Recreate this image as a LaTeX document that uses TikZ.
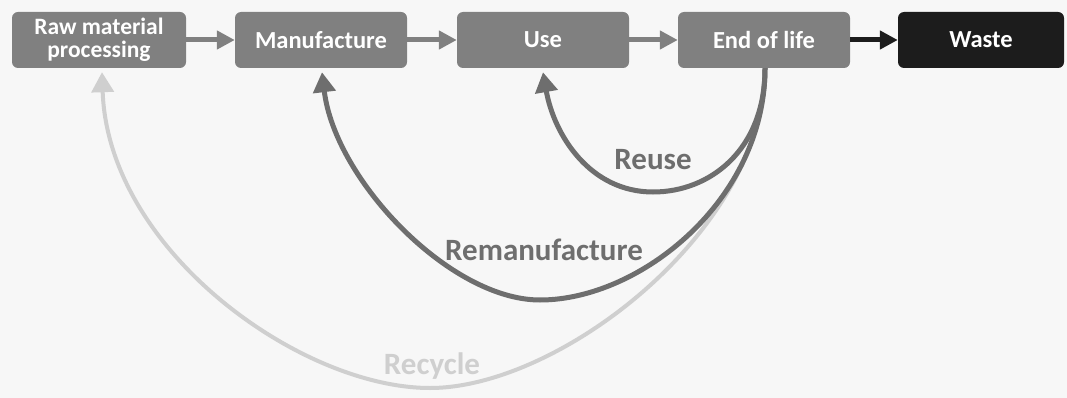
\documentclass[tikz,border=0pt]{standalone}
\usepackage{fontspec}
\setmainfont{Carlito}
\usetikzlibrary{arrows.meta}
\definecolor{boxgray}{HTML}{808080}
\definecolor{wastecol}{HTML}{1C1C1C}
\definecolor{loopdark}{HTML}{6E6E6E}
\definecolor{looplight}{HTML}{CFCFCF}
\definecolor{bgcol}{HTML}{F7F7F7}
\tikzset{
  stagebox/.style={draw=none, fill=boxgray, rounded corners=6pt, minimum height=56pt,
    minimum width=172pt, text=white, font=\bfseries\fontsize{24.5}{22}\selectfont, align=center, inner sep=0pt},
  flow/.style={line width=5pt, draw=boxgray, -{Triangle[width=18pt,length=18pt]}},
  loopline/.style={line width=5pt, draw=loopdark, -{Triangle[width=22pt,length=20pt]}},
  recline/.style={line width=4pt, draw=looplight, -{Triangle[width=22pt,length=20pt]}},
  looplabel/.style={font=\bfseries\fontsize{31}{32}\selectfont, text=loopdark},
}
\begin{document}
\begin{tikzpicture}[x=1pt,y=1pt]
\fill[bgcol] (0,0) rectangle (1067,-398);
\useasboundingbox (0,0) rectangle (1067,-398);
\node[stagebox, minimum width=174pt, font=\bfseries\fontsize{23.5}{23}\selectfont] (raw) at (99,-40) {Raw material\\processing};
\node[stagebox] (man) at (321,-40) {Manufacture};
\node[stagebox] (use) at (543,-40) {Use};
\node[stagebox] (eol) at (764,-40) {End of life};
\node[stagebox, fill=wastecol, minimum width=166pt] (waste) at (981,-40) {Waste};
\draw[flow] (raw.east) -- (man.west);
\draw[flow] (man.east) -- (use.west);
\draw[flow] (use.east) -- (eol.west);
\draw[flow, draw=wastecol] (eol.east) -- (waste.west);
\coordinate (es) at ([xshift=1pt]eol.south);
\coordinate (usein) at ([yshift=-4pt]use.south);
\coordinate (manin) at ([xshift=1pt,yshift=-4pt]man.south);
\coordinate (rawin) at ([xshift=3pt,yshift=-4pt]raw.south);
\coordinate (recbot) at (430,-388);
\coordinate (rembot) at (540,-300);
\coordinate (reubot) at (653,-192);
\draw[recline] (es) .. controls (765,-230) and (560,-388) .. (recbot)
  .. controls (300,-388) and (108,-250) .. (rawin);
\draw[loopline] (es) .. controls (765,-200) and (640,-300) .. (rembot)
  .. controls (450,-300) and (335,-180) .. (manin);
\draw[loopline] (es) .. controls (765,-150) and (710,-192) .. (reubot)
  .. controls (590,-192) and (554,-135) .. (usein);
\node[looplabel] (reuse) at (653,-160) {Reuse};
\node[looplabel] (reman) at (544,-250) {Remanufacture};
\node[looplabel, text=looplight] (recyc) at (432,-366) {Recycle};
\end{tikzpicture}
\end{document}
